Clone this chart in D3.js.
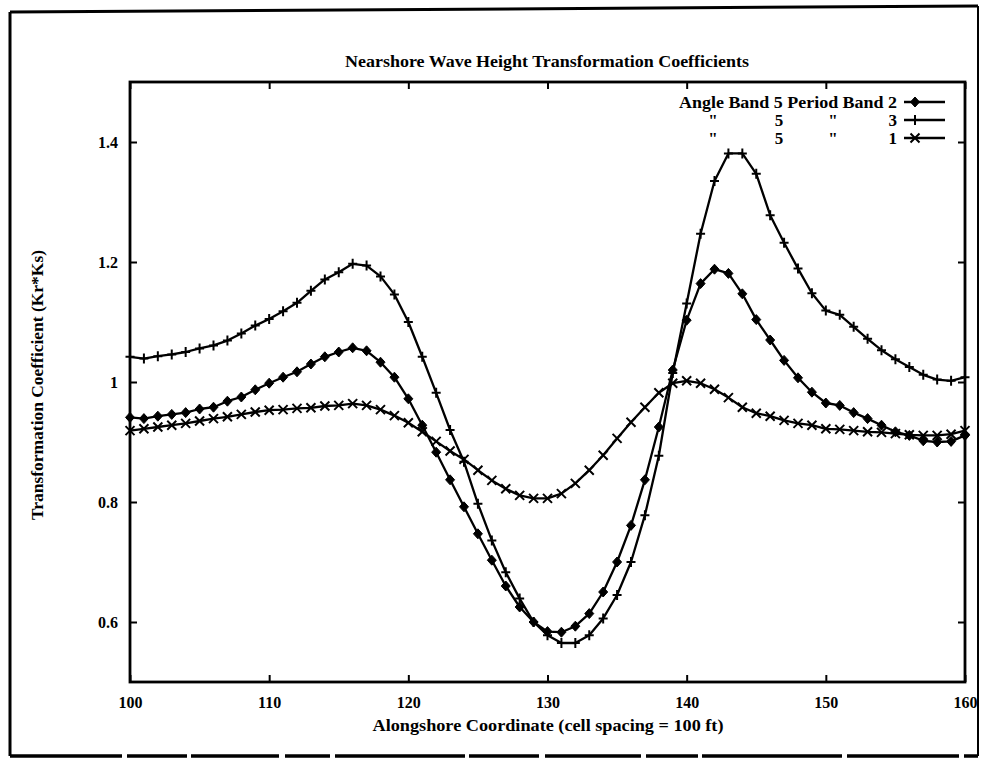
<!DOCTYPE html>
<html>
<head>
<meta charset="utf-8">
<script src="https://cdn.jsdelivr.net/npm/d3@7/dist/d3.min.js"></script>
<style>
  body { margin: 0; background: #fff; }
  svg text { font-family: "Liberation Serif", "DejaVu Serif", serif; font-weight: bold; fill: #000; }
</style>
</head>
<body>
<svg id="chart" width="983" height="762"></svg>
<script>
// Alongshore cell coordinate (cell spacing = 100 ft)
const cells = [100,101,102,103,104,105,106,107,108,109,110,111,112,113,114,115,116,117,118,119,120,
               121,122,123,124,125,126,127,128,129,130,131,132,133,134,135,136,137,138,139,140,
               141,142,143,144,145,146,147,148,149,150,151,152,153,154,155,156,157,158,159,160];

// Transformation coefficient Kr*Ks, angle band 5
const periodBand2 = [0.941,0.939,0.943,0.946,0.949,0.955,0.958,0.968,0.975,0.987,0.998,
                     1.008,1.017,1.030,1.042,1.050,1.057,1.052,1.033,1.008,0.972,
                     0.928,0.883,0.837,0.792,0.747,0.703,0.660,0.625,0.600,0.584,
                     0.583,0.593,0.614,0.650,0.700,0.761,0.837,0.925,1.020,1.103,
                     1.164,1.188,1.181,1.147,1.104,1.070,1.036,1.007,0.983,0.965,
                     0.961,0.949,0.939,0.928,0.917,0.911,0.902,0.900,0.901,0.911];
const periodBand3 = [1.042,1.039,1.043,1.046,1.050,1.056,1.061,1.069,1.081,1.094,1.105,
                     1.118,1.132,1.152,1.171,1.183,1.197,1.194,1.176,1.146,1.100,
                     1.042,0.982,0.920,0.867,0.797,0.736,0.683,0.639,0.600,0.578,
                     0.565,0.565,0.578,0.606,0.645,0.700,0.778,0.877,1.015,1.131,
                     1.247,1.335,1.381,1.381,1.347,1.278,1.232,1.189,1.148,1.119,
                     1.112,1.092,1.072,1.053,1.038,1.025,1.012,1.004,1.002,1.008];
const periodBand1 = [0.919,0.922,0.925,0.928,0.931,0.935,0.939,0.942,0.946,0.950,0.953,
                     0.954,0.956,0.957,0.960,0.961,0.964,0.961,0.954,0.944,0.932,
                     0.917,0.901,0.885,0.871,0.853,0.836,0.822,0.811,0.806,0.806,
                     0.814,0.831,0.853,0.878,0.906,0.933,0.958,0.982,0.998,1.002,
                     0.998,0.988,0.974,0.958,0.948,0.943,0.936,0.931,0.928,0.922,
                     0.921,0.919,0.917,0.916,0.914,0.912,0.911,0.911,0.913,0.919];

const xTicks = [100,110,120,130,140,150,160];
const yTicks = [0.6,0.8,1.0,1.2,1.4];

const angleBands  = ["5","5","5"];
const periodBands = ["2","3","1"];

const titleText  = "Nearshore Wave Height Transformation Coefficients";
const xLabelText = "Alongshore Coordinate (cell spacing = 100 ft)";
const yLabelText = "Transformation Coefficient (Kr*Ks)";

// Marker shapes
const markerPaths = {
  diamond: "M0,-5L4.5,0L0,5L-4.5,0Z",
  plus:    "M-4.5,0H4.5M0,-5V5",
  cross:   "M-4.5,-4.5L4.5,4.5M-4.5,4.5L4.5,-4.5"
};

const series = [
  { values: periodBand2, marker: "diamond" },
  { values: periodBand3, marker: "plus" },
  { values: periodBand1, marker: "cross" }
];

const svg = d3.select("#chart");

// Outer page frame
svg.append("path")
  .attr("d", "M10,12L978,6")
  .attr("stroke", "#000").attr("stroke-width", 3).attr("fill", "none");
svg.append("path")
  .attr("d", "M10,12L10,756")
  .attr("stroke", "#000").attr("stroke-width", 3).attr("fill", "none");
svg.append("path")
  .attr("d", "M978,6L978,756")
  .attr("stroke", "#000").attr("stroke-width", 2).attr("fill", "none");
svg.append("path")
  .attr("d", "M10,756L978,756")
  .attr("stroke", "#000").attr("stroke-width", 3.5).attr("fill", "none")
  .attr("stroke-dasharray", "112,5,60,4,88,6,45,5,130,4,70,6,96,5,52,4,140,5");

const x = d3.scaleLinear().domain([100, 160]).range([130, 965]);
const y = d3.scaleLinear().domain([0.5, 1.5]).range([682, 82]);

const tickLen = 7;

// Bottom axis with labels
const gx = svg.append("g").attr("transform", "translate(0,682)")
  .call(d3.axisBottom(x).tickValues(xTicks).tickSizeInner(-tickLen).tickSizeOuter(0)
        .tickPadding(15).tickFormat(d3.format("d")));
// Top axis, ticks only
const gxt = svg.append("g").attr("transform", "translate(0,82)")
  .call(d3.axisTop(x).tickValues(xTicks).tickSizeInner(-tickLen).tickSizeOuter(0).tickFormat(""));
// Left axis with labels
const gy = svg.append("g").attr("transform", "translate(130,0)")
  .call(d3.axisLeft(y).tickValues(yTicks).tickSizeInner(-tickLen).tickSizeOuter(0)
        .tickPadding(12).tickFormat(d3.format("")));
// Right axis, ticks only
const gyr = svg.append("g").attr("transform", "translate(965,0)")
  .call(d3.axisRight(y).tickValues(yTicks).tickSizeInner(-tickLen).tickSizeOuter(0).tickFormat(""));

[gx, gxt, gy, gyr].forEach(g => {
  g.select(".domain").remove();
  g.selectAll(".tick line").attr("stroke", "#000").attr("stroke-width", 2);
  g.selectAll(".tick text")
    .attr("font-family", "Liberation Serif, serif")
    .attr("font-weight", "bold")
    .attr("font-size", 16);
});

// Plot border
svg.append("rect")
  .attr("x", x(100)).attr("y", y(1.5))
  .attr("width", x(160) - x(100)).attr("height", y(0.5) - y(1.5))
  .attr("fill", "none").attr("stroke", "#000").attr("stroke-width", 2.8);

// Curves
const line = d3.line()
  .x((d, i) => x(cells[i]))
  .y(d => y(d));

series.forEach(s => {
  svg.append("path")
    .datum(s.values)
    .attr("d", line)
    .attr("fill", "none")
    .attr("stroke", "#000")
    .attr("stroke-width", 2.3)
    .attr("stroke-linejoin", "round");

  svg.append("g").selectAll("path")
    .data(s.values)
    .join("path")
    .attr("transform", (d, i) => `translate(${x(cells[i])},${y(d)})`)
    .attr("d", markerPaths[s.marker])
    .attr("fill", s.marker === "diamond" ? "#000" : "none")
    .attr("stroke", "#000")
    .attr("stroke-width", s.marker === "diamond" ? 1 : 2);
});

// Title
svg.append("text")
  .attr("x", 547).attr("y", 67)
  .attr("text-anchor", "middle")
  .attr("font-size", 17)
  .attr("textLength", 404).attr("lengthAdjust", "spacingAndGlyphs")
  .text(titleText);

// Axis labels
svg.append("text")
  .attr("x", 548).attr("y", 731)
  .attr("text-anchor", "middle")
  .attr("font-size", 17)
  .attr("textLength", 351).attr("lengthAdjust", "spacingAndGlyphs")
  .text(xLabelText);

svg.append("text")
  .attr("transform", "translate(43,385) rotate(-90)")
  .attr("text-anchor", "middle")
  .attr("font-size", 17)
  .attr("textLength", 270).attr("lengthAdjust", "spacingAndGlyphs")
  .text(yLabelText);

// Legend
const legendRowY = [102, 120, 138];
const legend = svg.append("g").attr("font-size", 17);

series.forEach((s, i) => {
  const ly = legendRowY[i];
  if (i === 0) {
    legend.append("text")
      .attr("x", 897).attr("y", ly + 6)
      .attr("text-anchor", "end")
      .attr("textLength", 218).attr("lengthAdjust", "spacingAndGlyphs")
      .text(`Angle Band ${angleBands[i]} Period Band ${periodBands[i]}`);
  } else {
    legend.append("text").attr("x", 713).attr("y", ly + 6).attr("text-anchor", "middle").text("\"");
    legend.append("text").attr("x", 779).attr("y", ly + 6).attr("text-anchor", "middle").text(angleBands[i]);
    legend.append("text").attr("x", 833).attr("y", ly + 6).attr("text-anchor", "middle").text("\"");
    legend.append("text").attr("x", 897).attr("y", ly + 6).attr("text-anchor", "end").text(periodBands[i]);
  }
  legend.append("line")
    .attr("x1", 904).attr("x2", 945).attr("y1", ly).attr("y2", ly)
    .attr("stroke", "#000").attr("stroke-width", 2.3);
  legend.append("path")
    .attr("transform", `translate(915,${ly})`)
    .attr("d", markerPaths[s.marker])
    .attr("fill", s.marker === "diamond" ? "#000" : "none")
    .attr("stroke", "#000")
    .attr("stroke-width", s.marker === "diamond" ? 1 : 2);
});
</script>
</body>
</html>
